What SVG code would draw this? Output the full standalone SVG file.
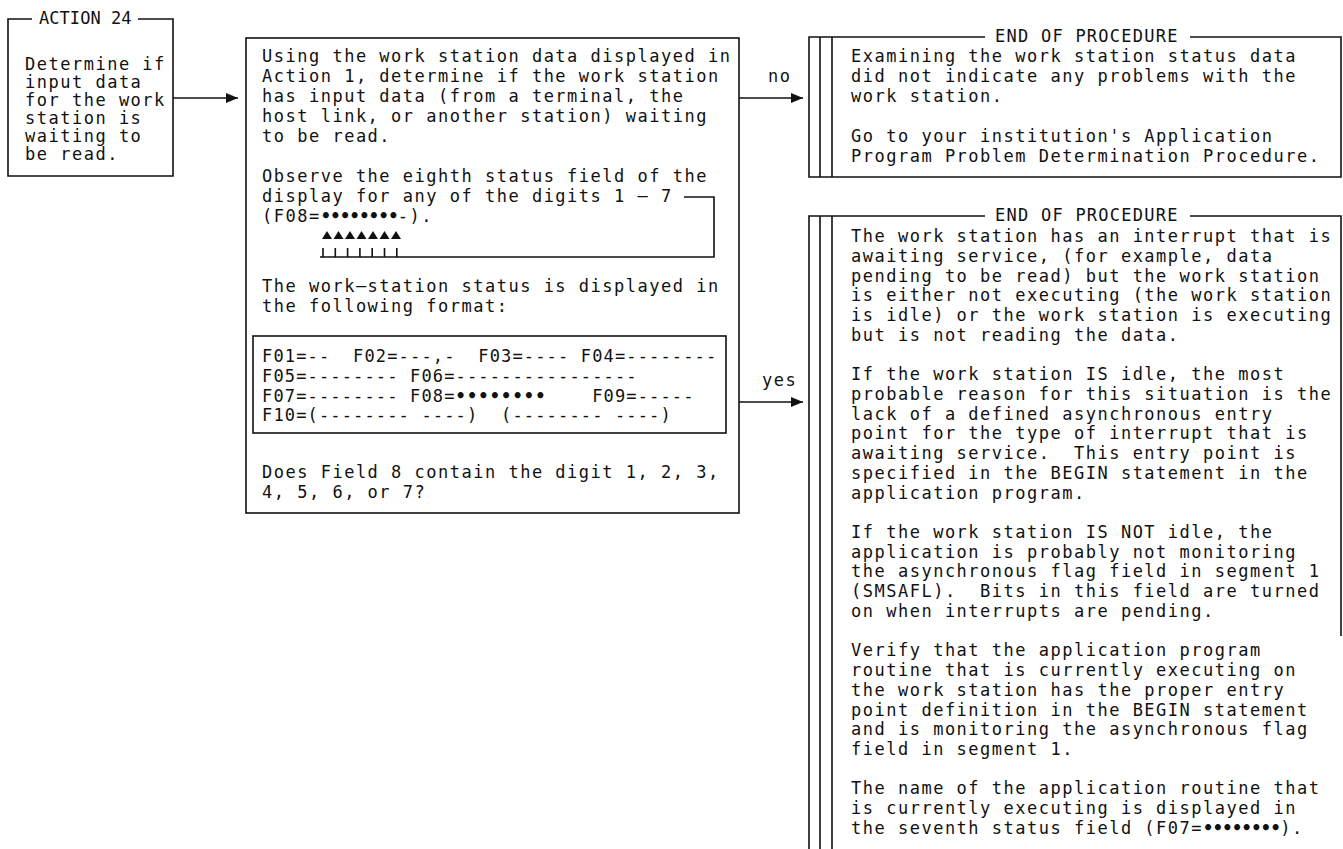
<svg xmlns="http://www.w3.org/2000/svg" width="1343" height="849" viewBox="0 0 1343 849" xml:space="preserve">
<style>
.t{font-family:"DejaVu Sans Mono","Liberation Mono",monospace;font-size:17px;letter-spacing:1.5px;fill:#111;white-space:pre}
.f{letter-spacing:1.15px}
.d{letter-spacing:-0.6px;font-weight:bold}
.b{font-weight:bold}
.ln{stroke:#111;stroke-width:1.6;fill:none}
.fill{fill:#111;stroke:none}
</style>
<defs>
<marker id="ah" markerUnits="userSpaceOnUse" markerWidth="12" markerHeight="10" refX="12" refY="5" orient="auto">
<path d="M0,0 L12,5 L0,10 z" fill="#111"/>
</marker>
</defs>
<rect width="1343" height="849" fill="#fff"/>

<g id="node-action24">
<path class="ln" d="M32,19 H8 V176 H173 V19 H138"/>
<text class="t" x="39" y="24" textLength="94">ACTION 24</text>
<text class="t" x="25" y="70">Determine if</text>
<text class="t" x="25" y="88">input data</text>
<text class="t" x="25" y="106">for the work</text>
<text class="t" x="25" y="124">station is</text>
<text class="t" x="25" y="142">waiting to</text>
<text class="t" x="25" y="160">be read.</text>
</g>

<g id="node-decision">
<rect class="ln" x="246" y="38" width="493" height="475"/>
<text class="t" x="262" y="62">Using the work station data displayed in</text>
<text class="t" x="262" y="82">Action 1, determine if the work station</text>
<text class="t" x="262" y="102">has input data (from a terminal, the</text>
<text class="t" x="262" y="122">host link, or another station) waiting</text>
<text class="t" x="262" y="142">to be read.</text>
<text class="t" x="262" y="182">Observe the eighth status field of the</text>
<text class="t" x="262" y="202">display for any of the digits 1 – 7</text>
<text class="t" x="262" y="222">(F08=<tspan class="d">••••••••</tspan>-).</text>
<g id="pointer">
<path class="ln" d="M684,197 H714 V257 H320"/>
<path class="ln" d="M323,248 V257 M335.3,248 V257 M347.6,248 V257 M359.9,248 V257 M372.2,248 V257 M384.5,248 V257 M396.8,248 V257"/>
<path class="fill" d="M322,239 L327,231 L332,239 Z M333.5,239 L338.5,231 L343.5,239 Z M345,239 L350,231 L355,239 Z M356.5,239 L361.5,231 L366.5,239 Z M368,239 L373,231 L378,239 Z M379.5,239 L384.5,231 L389.5,239 Z M391,239 L396,231 L401,239 Z"/>
</g>
<text class="t" x="262" y="292">The work–station status is displayed in</text>
<text class="t" x="262" y="312">the following format:</text>
<rect class="ln" x="253" y="336" width="473" height="97"/>
<text class="t f" x="262" y="362">F01=--  F02=---,-  F03=---- F04=--------</text>
<text class="t f" x="262" y="382">F05=-------- F06=----------------</text>
<text class="t f" x="262" y="402">F07=-------- F08=<tspan class="b">••••••••</tspan>    F09=-----</text>
<text class="t f" x="262" y="421">F10=(-------- ----)  (-------- ----)</text>
<text class="t" x="262" y="478">Does Field 8 contain the digit 1, 2, 3,</text>
<text class="t" x="262" y="498">4, 5, 6, or 7?</text>
</g>

<g id="node-end-no">
<path class="ln" d="M985,37 H809 V177 H1341 V37 H1190 M820,37 V177 M832,37 V177"/>
<text class="t" x="995" y="42" textLength="184">END OF PROCEDURE</text>
<text class="t" x="851" y="62">Examining the work station status data</text>
<text class="t" x="851" y="82">did not indicate any problems with the</text>
<text class="t" x="851" y="102">work station.</text>
<text class="t" x="851" y="142">Go to your institution's Application</text>
<text class="t" x="851" y="162">Program Problem Determination Procedure.</text>
</g>

<g id="node-end-yes">
<path class="ln" d="M985,216 H809 V849 M820,216 V849 M832,216 V849 M1190,216 H1341 V636"/>
<text class="t" x="995" y="221" textLength="184">END OF PROCEDURE</text>
<text class="t" x="851" y="242">The work station has an interrupt that is</text>
<text class="t" x="851" y="261.7">awaiting service, (for example, data</text>
<text class="t" x="851" y="281.5">pending to be read) but the work station</text>
<text class="t" x="851" y="301.2">is either not executing (the work station</text>
<text class="t" x="851" y="320.9">is idle) or the work station is executing</text>
<text class="t" x="851" y="340.7">but is not reading the data.</text>
<text class="t" x="851" y="380.1">If the work station IS idle, the most</text>
<text class="t" x="851" y="399.8">probable reason for this situation is the</text>
<text class="t" x="851" y="419.6">lack of a defined asynchronous entry</text>
<text class="t" x="851" y="439.3">point for the type of interrupt that is</text>
<text class="t" x="851" y="459">awaiting service.  This entry point is</text>
<text class="t" x="851" y="478.8">specified in the BEGIN statement in the</text>
<text class="t" x="851" y="498.5">application program.</text>
<text class="t" x="851" y="538">If the work station IS NOT idle, the</text>
<text class="t" x="851" y="557.7">application is probably not monitoring</text>
<text class="t" x="851" y="577.4">the asynchronous flag field in segment 1</text>
<text class="t" x="851" y="597.1">(SMSAFL).  Bits in this field are turned</text>
<text class="t" x="851" y="616.9">on when interrupts are pending.</text>
<text class="t" x="851" y="656.3">Verify that the application program</text>
<text class="t" x="851" y="676.1">routine that is currently executing on</text>
<text class="t" x="851" y="695.8">the work station has the proper entry</text>
<text class="t" x="851" y="715.5">point definition in the BEGIN statement</text>
<text class="t" x="851" y="735.3">and is monitoring the asynchronous flag</text>
<text class="t" x="851" y="755">field in segment 1.</text>
<text class="t" x="851" y="794.4">The name of the application routine that</text>
<text class="t" x="851" y="814.2">is currently executing is displayed in</text>
<text class="t" x="851" y="833.9">the seventh status field (F07=<tspan class="d">••••••••</tspan>).</text>
</g>

<g id="connectors">
<path class="ln" d="M173,98 H238" marker-end="url(#ah)"/>
<path class="ln" d="M739,98 H803" marker-end="url(#ah)"/>
<text class="t" x="768" y="82">no</text>
<path class="ln" d="M739,402 H803" marker-end="url(#ah)"/>
<text class="t" x="762" y="386">yes</text>
</g>
</svg>
